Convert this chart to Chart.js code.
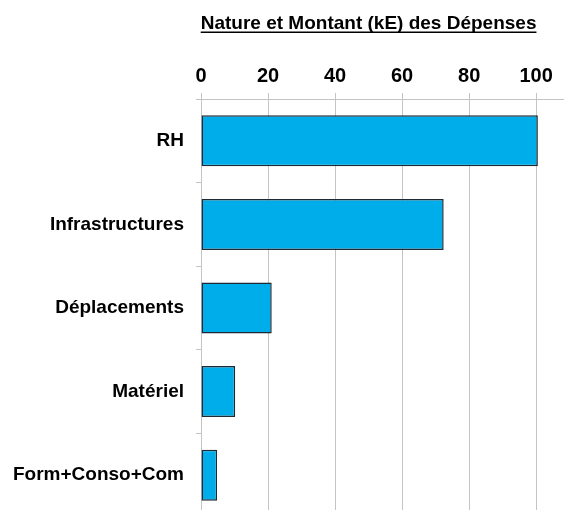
<!DOCTYPE html>
<html>
<head>
<meta charset="utf-8">
<script src="https://cdn.jsdelivr.net/npm/chart.js@4/dist/chart.umd.min.js"></script>
<style>
html,body{margin:0;padding:0;overflow:hidden;background:#fff;width:564px;height:510px;}
canvas{display:block;}
</style>
</head>
<body>
<canvas id="c" width="564" height="520"></canvas>
<script>
const chartTitle = 'Nature et Montant (kE) des Dépenses';
const categories = ['RH', 'Infrastructures', 'Déplacements', 'Matériel', 'Form+Conso+Com'];
const montants = [100.5, 72.4, 21.1, 10.2, 4.8];
const tickValues = [0, 20, 40, 60, 80, 100];

const FONT = '"Liberation Sans", Arial, sans-serif';

const titlePlugin = {
  id: 'underlinedTitle',
  afterDraw(chart) {
    const ctx = chart.ctx;
    const xs = chart.scales.x;
    const cx = (xs.getPixelForValue(tickValues[0]) + xs.getPixelForValue(tickValues[tickValues.length - 1])) / 2;
    ctx.save();
    ctx.font = 'bold 19px ' + FONT;
    ctx.fillStyle = '#000';
    ctx.textAlign = 'center';
    ctx.textBaseline = 'alphabetic';
    const y = 29;
    ctx.fillText(chartTitle, cx, y);
    const w = ctx.measureText(chartTitle).width;
    ctx.fillRect(cx - w / 2, y + 2.5, w, 1.5);
    ctx.restore();
  }
};

new Chart(document.getElementById('c'), {
  type: 'bar',
  data: {
    labels: categories,
    datasets: [{
      data: montants,
      backgroundColor: 'rgb(0,173,235)',
      borderColor: '#1e2a33',
      borderWidth: 1.5,
      borderSkipped: false,
      categoryPercentage: 1,
      barPercentage: 0.61
    }]
  },
  options: {
    indexAxis: 'y',
    responsive: false,
    animation: false,
    devicePixelRatio: 1,
    layout: { padding: { top: 0, right: 1, bottom: 3, left: 0 } },
    plugins: { legend: { display: false }, tooltip: { enabled: false }, title: { display: false } },
    scales: {
      x: {
        position: 'top',
        min: 0,
        max: 108,
        afterBuildTicks(scale) { scale.ticks = tickValues.map(v => ({ value: v })); },
        afterFit(scale) { scale.height = 99; scale.paddingLeft = 0; scale.paddingRight = 0; },
        grid: { color: '#c4c4c4', lineWidth: 1, drawTicks: true, tickLength: 6, tickColor: '#c4c4c4' },
        border: { color: '#c4c4c4', width: 1 },
        ticks: { color: '#000', font: { family: FONT, size: 20, weight: 'bold' }, padding: 5, maxRotation: 0 }
      },
      y: {
        afterFit(scale) { scale.width = 201; scale.paddingTop = 0; scale.paddingBottom = 0; },
        grid: { drawOnChartArea: false, drawTicks: true, tickLength: 5, tickColor: '#c4c4c4', offset: true },
        border: { color: '#c4c4c4', width: 1 },
        ticks: { color: '#000', font: { family: FONT, size: 19, weight: 'bold' }, padding: 12 }
      }
    }
  },
  plugins: [titlePlugin]
});
</script>
</body>
</html>
